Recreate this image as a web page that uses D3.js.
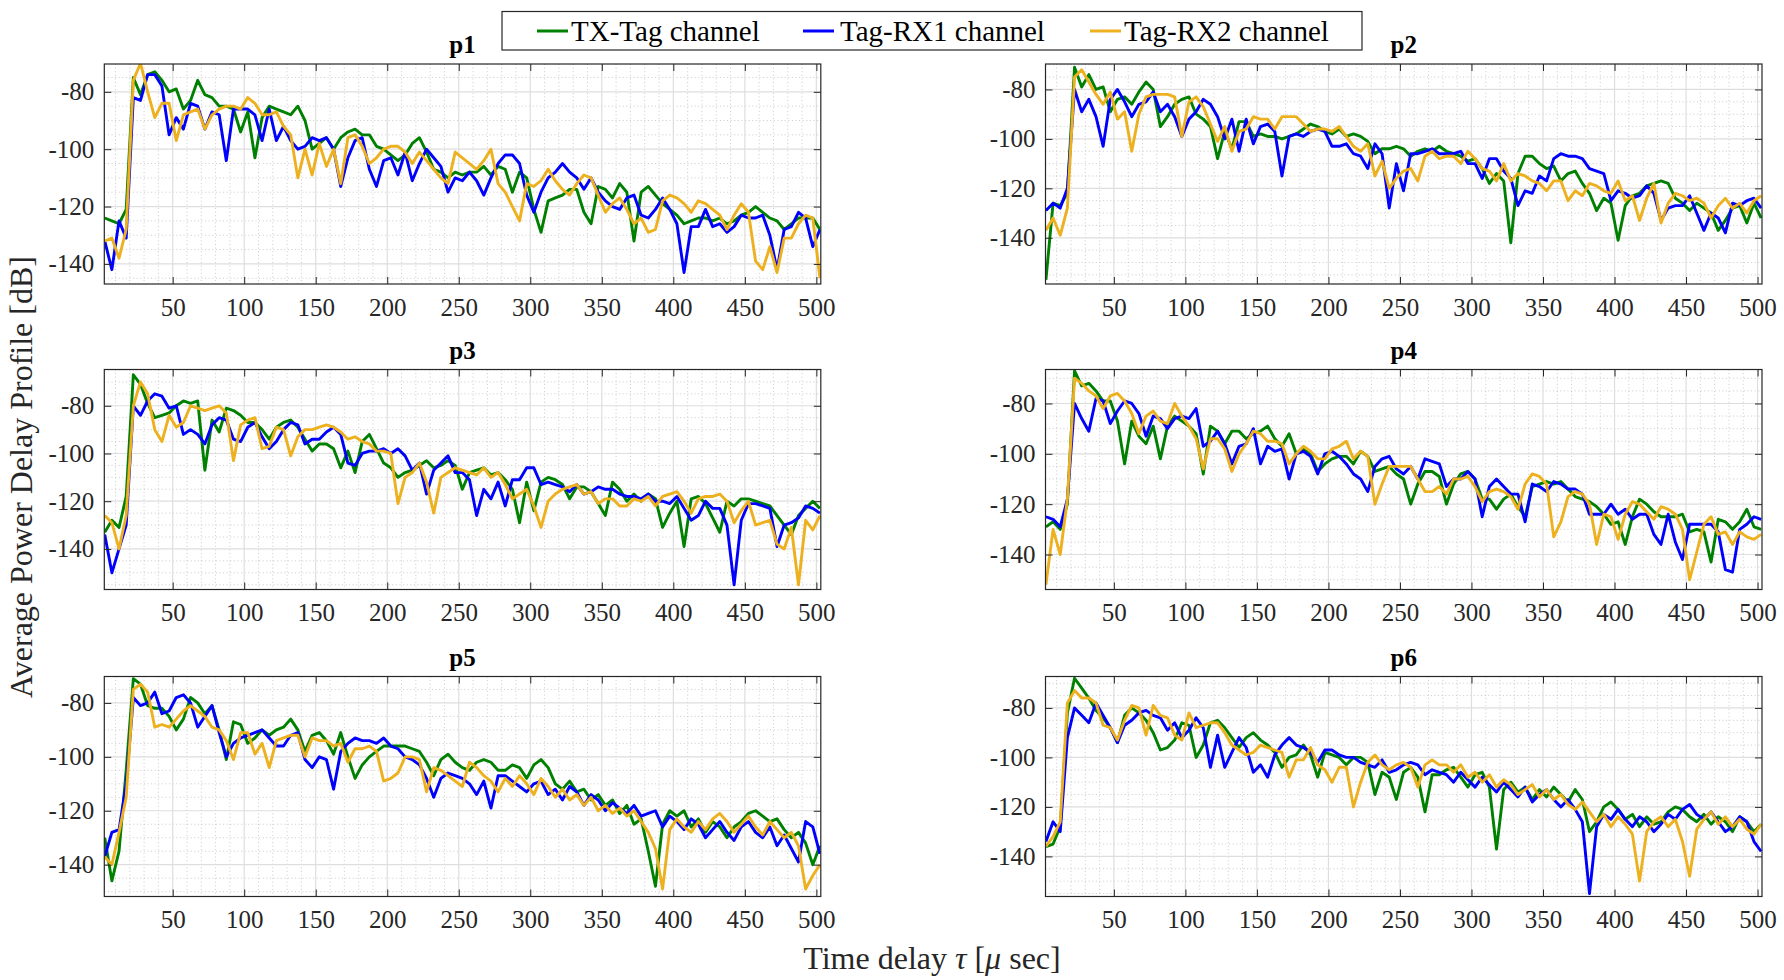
<!DOCTYPE html>
<html>
<head>
<meta charset="utf-8">
<script src="https://cdn.jsdelivr.net/npm/d3@7"></script>
<style>
  html, body { margin: 0; padding: 0; background: #fff; }
  svg { display: block; }
  text { font-family: "Liberation Serif", "Times New Roman", serif; }
</style>
</head>
<body>
<svg id="chart" width="1784" height="980"></svg>
<script>
// ---- data: average power delay profiles (dB) at six tag positions ----
const panelNames = ["p1", "p2", "p3", "p4", "p5", "p6"];
const seriesNames = ["TX-Tag channel", "Tag-RX1 channel", "Tag-RX2 channel"];
const xTicks = [50, 100, 150, 200, 250, 300, 350, 400, 450, 500];
const yTicks = [-80, -100, -120, -140];
const xLimits = [2.2, 503.1];
const yLimits = [[-147, -70.3], [-158.7, -69.7], [-157, -64.8], [-153.9, -66.5], [-151.8, -70.2], [-156.2, -67.3]];

// time delay samples (µs)
const delays = [
  2.5,7.5,12.5,17.5,22.5,27.5,32.5,37.5,42.5,47.5,
  52.5,57.5,62.5,67.5,72.5,77.5,82.5,87.5,92.5,97.5,
  102.5,107.5,112.5,117.5,122.5,127.5,132.5,137.5,142.5,147.5,
  152.5,157.5,162.5,167.5,172.5,177.5,182.5,187.5,192.5,197.5,
  202.5,207.5,212.5,217.5,222.5,227.5,232.5,237.5,242.5,247.5,
  252.5,257.5,262.5,267.5,272.5,277.5,282.5,287.5,292.5,297.5,
  302.5,307.5,312.5,317.5,322.5,327.5,332.5,337.5,342.5,347.5,
  352.5,357.5,362.5,367.5,372.5,377.5,382.5,387.5,392.5,397.5,
  402.5,407.5,412.5,417.5,422.5,427.5,432.5,437.5,442.5,447.5,
  452.5,457.5,462.5,467.5,472.5,477.5,482.5,487.5,492.5,497.5,
  502.5
];

const p1TxTag = [
  -124,-125,-126,-121,-75,-81,-74,-73,-76,-80,
  -79,-86,-83,-76,-81,-82,-85,-85,-86,-94,
  -87,-103,-89,-85,-86,-87,-88,-85,-90,-100,
  -98,-96,-100,-96,-94,-93,-95,-95,-99,-100,
  -102,-104,-102,-98,-96,-101,-107,-108,-110,-108,
  -109,-108,-108,-106,-109,-106,
  -107,-115,-108,-110,-121,-129,-118,-117,-116,-114,
  -114,-122,-126,-113,-114,-117,-112,-115,-132,-115,
  -113,-116,-119,-121,-123,-126,-125,-124,-124,-125,
  -124,-126,-125,-123,-122,-120,-122,-124,-125,-128,
  -126,-124,-124,-124,-128
];
const p1TagRx1 = [
  -132,-142,-125,-131,-82,-83,-74,-74,-78,-95,
  -89,-93,-84,-85,-93,-87,-88,-104,-86,-86,
  -86,-88,-97,-86,-97,-92,-97,-100,-99,-96,
  -97,-96,-100,-113,-103,-97,-96,-107,-113,-104,
  -103,-109,-101,-111,-105,-100,-103,-106,-115,-110,
  -111,-108,-111,-116,-110,-105,
  -102,-102,-105,-116,-122,-115,-110,-108,-105,-108,
  -110,-114,-110,-115,-118,-120,-121,-117,-116,-123,
  -124,-121,-117,-121,-126,-143,-127,-127,-121,-127,
  -126,-129,-127,-123,-124,-124,-123,-130,-142,-128,
  -127,-122,-124,-134,-128
];
const p1TagRx2 = [
  -132,-131,-138,-128,-76,-70,-80,-89,-84,-84,
  -97,-88,-87,-86,-93,-88,-86,-85,-85,-86,
  -82,-84,-88,-88,-87,-92,-95,-110,-100,-109,
  -98,-106,-100,-112,-96,-95,-99,-105,-103,-100,
  -99,-99,-101,-105,-101,-104,-107,-110,-112,-101,
  -103,-105,-107,-104,-100,-112,
  -115,-120,-125,-112,-113,-111,-107,-111,-114,-116,
  -112,-109,-110,-116,-122,-119,-117,-121,-126,-124,
  -129,-128,-118,-116,-117,-119,-122,-118,-119,-121,
  -123,-128,-123,-119,-122,-139,-142,-134,-143,-131,
  -131,-126,-123,-124,-145
];

const p2TxTag = [
  -157,-126,-127,-122,-71,-79,-74,-80,-79,-89,
  -84,-83,-86,-81,-77,-80,-95,-91,-86,-84,
  -83,-90,-92,-95,-108,-97,-104,-93,-93,-99,
  -98,-99,-99,-100,-99,-98,-96,-94,-95,-97,
  -98,-96,-99,-98,-99,-101,-106,-104,-104,-103,
  -104,-107,-105,-104,-105,-103,
  -105,-106,-107,-109,-108,-112,-118,-114,-117,-142,
  -114,-107,-107,-110,-112,-111,-117,-114,-113,-118,
  -122,-129,-124,-126,-141,-127,-123,-122,-119,-118,
  -117,-118,-124,-126,-129,-126,-128,-130,-137,-133,
  -128,-127,-134,-126,-132
];
const p2TagRx1 = [
  -129,-126,-128,-120,-80,-89,-84,-91,-103,-84,
  -80,-85,-91,-86,-85,-81,-89,-86,-91,-99,
  -92,-89,-84,-86,-91,-100,-92,-105,-92,-102,
  -95,-94,-97,-115,-99,-98,-99,-97,-96,-97,
  -103,-103,-102,-106,-107,-112,-102,-106,-128,-110,
  -121,-106,-106,-105,-104,-106,
  -106,-106,-105,-110,-110,-116,-108,-108,-113,-116,
  -127,-121,-122,-115,-117,-108,-106,-107,-107,-108,
  -112,-113,-114,-125,-121,-122,-124,-123,-119,-122,
  -133,-128,-127,-127,-123,-130,-137,-130,-132,-138,
  -126,-127,-125,-124,-128
];
const p2TagRx2 = [
  -137,-132,-139,-128,-75,-72,-77,-82,-86,-81,
  -92,-89,-105,-90,-83,-82,-82,-82,-83,-99,
  -85,-83,-87,-94,-101,-95,-105,-97,-96,-91,
  -92,-92,-96,-91,-91,-91,-94,-97,-96,-96,
  -97,-95,-99,-103,-105,-102,-115,-109,-120,-116,
  -113,-112,-117,-107,-105,-108,
  -107,-107,-110,-105,-108,-112,-113,-117,-110,-117,
  -114,-115,-117,-118,-121,-117,-117,-125,-121,-123,
  -118,-119,-121,-122,-117,-125,-123,-133,-124,-118,
  -134,-126,-122,-123,-125,-124,-126,-132,-127,-124,
  -128,-126,-130,-125,-123
];

const p3TxTag = [
  -133,-128,-131,-118,-67,-71,-79,-85,-84,-83,
  -80,-78,-79,-78,-107,-86,-91,-81,-82,-84,
  -87,-87,-90,-94,-89,-87,-86,-89,-94,-99,
  -96,-96,-98,-106,-99,-108,-95,-92,-98,-104,
  -106,-110,-108,-107,-105,-103,-106,-105,-103,-105,
  -115,-108,-107,-106,-109,-108,
  -111,-115,-129,-112,-124,-112,-110,-111,-113,-119,
  -114,-114,-116,-121,-126,-112,-115,-120,-117,-120,
  -117,-119,-131,-125,-120,-139,-119,-118,-121,-127,
  -133,-120,-122,-119,-119,-120,-121,-122,-126,-130,
  -134,-126,-123,-120,-123
];
const p3TagRx1 = [
  -134,-150,-140,-130,-80,-84,-78,-75,-76,-81,
  -80,-92,-90,-92,-96,-88,-85,-86,-94,-95,
  -89,-87,-93,-98,-95,-90,-87,-88,-96,-94,
  -94,-91,-89,-92,-104,-105,-100,-99,-99,-98,
  -100,-98,-101,-107,-104,-117,-107,-104,-101,-108,
  -108,-111,-126,-115,-119,-112,
  -122,-111,-111,-106,-106,-113,-112,-113,-114,-116,
  -113,-117,-116,-114,-115,-115,-117,-118,-118,-119,
  -117,-120,-120,-121,-118,-123,-128,-126,-120,-123,
  -123,-130,-155,-128,-121,-121,-122,-123,-139,-130,
  -129,-127,-122,-123,-125
];
const p3TagRx2 = [
  -126,-129,-140,-126,-80,-70,-75,-90,-95,-84,
  -89,-87,-80,-81,-82,-81,-80,-83,-103,-88,
  -86,-85,-98,-97,-89,-90,-101,-93,-90,-90,
  -89,-88,-89,-91,-94,-93,-95,-96,-99,-99,
  -100,-121,-110,-108,-104,-112,-125,-110,-108,-106,
  -107,-108,-109,-106,-110,-108,
  -113,-119,-117,-115,-122,-131,-120,-117,-115,-114,
  -113,-117,-116,-121,-119,-119,-122,-122,-119,-120,
  -118,-122,-118,-117,-116,-120,-125,-119,-118,-118,
  -117,-120,-129,-124,-120,-130,-129,-128,-138,-140,
  -131,-155,-128,-132,-126
];

const p4TxTag = [
  -129,-127,-130,-120,-67,-73,-72,-75,-79,-79,
  -87,-104,-87,-93,-96,-89,-102,-89,-85,-87,
  -89,-92,-108,-89,-91,-96,-91,-91,-94,-92,
  -91,-89,-94,-97,-92,-100,-98,-100,-107,-104,
  -102,-101,-101,-104,-99,-101,-107,-106,-105,-108,
  -110,-120,-112,-107,-107,-109,
  -120,-112,-108,-107,-110,-118,-118,-122,-118,-116,
  -121,-125,-113,-112,-111,-112,-111,-114,-117,-118,
  -119,-121,-124,-128,-127,-136,-125,-118,-120,-123,
  -125,-125,-125,-124,-131,-130,-131,-143,-126,-127,
  -130,-127,-122,-129,-130
];
const p4TagRx1 = [
  -125,-126,-129,-118,-80,-86,-91,-78,-79,-88,
  -83,-79,-80,-84,-93,-85,-86,-90,-86,-85,
  -86,-82,-97,-95,-91,-96,-104,-97,-96,-90,
  -104,-97,-99,-98,-110,-100,-99,-101,-108,-100,
  -99,-101,-104,-108,-110,-115,-105,-102,-101,-106,
  -108,-105,-110,-102,-103,-104,
  -113,-110,-110,-107,-110,-125,-113,-110,-113,-116,
  -116,-127,-112,-113,-115,-111,-112,-114,-114,-116,
  -124,-124,-124,-120,-124,-122,-126,-124,-124,-132,
  -136,-124,-135,-142,-128,-128,-128,-128,-131,-146,
  -147,-130,-128,-125,-126
];
const p4TagRx2 = [
  -152,-130,-140,-118,-70,-72,-75,-77,-82,-77,
  -76,-79,-84,-92,-85,-83,-87,-88,-80,-85,
  -89,-94,-106,-94,-94,-98,-107,-100,-96,-91,
  -92,-95,-95,-96,-104,-100,-97,-99,-102,-102,
  -98,-97,-95,-102,-99,-101,-120,-112,-105,-105,
  -105,-105,-110,-115,-115,-113,
  -116,-110,-110,-109,-113,-119,-115,-114,-115,-117,
  -122,-112,-108,-109,-112,-133,-127,-117,-115,-116,
  -120,-136,-124,-125,-134,-124,-119,-120,-123,-126,
  -121,-122,-124,-130,-150,-139,-128,-125,-132,-131,
  -136,-131,-133,-134,-132
];

const p5TxTag = [
  -130,-146,-135,-105,-71,-73,-81,-82,-82,-85,
  -90,-86,-78,-80,-84,-81,-90,-101,-87,-88,
  -95,-93,-90,-92,-90,-89,-86,-90,-98,-92,
  -91,-94,-99,-91,-100,-108,-103,-100,-98,-96,
  -96,-96,-96,-97,-98,-102,-107,-101,-99,-102,
  -104,-105,-102,-101,-102,-105,
  -105,-103,-104,-108,-103,-101,-104,-110,-112,-109,
  -113,-112,-116,-114,-118,-116,-121,-118,-125,-123,
  -135,-148,-125,-120,-122,-120,-126,-123,-128,-124,
  -126,-130,-126,-124,-121,-120,-122,-124,-123,-127,
  -130,-128,-132,-140,-133
];
const p5TagRx1 = [
  -137,-128,-127,-110,-78,-81,-80,-76,-84,-83,
  -78,-77,-80,-89,-85,-81,-91,-100,-95,-93,
  -92,-91,-90,-93,-96,-96,-92,-91,-101,-104,
  -100,-101,-112,-98,-95,-93,-94,-94,-95,-93,
  -96,-97,-100,-101,-103,-108,-115,-108,-106,-107,
  -108,-110,-114,-109,-119,-107,
  -107,-109,-111,-113,-110,-109,-114,-112,-116,-111,
  -113,-118,-114,-116,-120,-117,-119,-121,-118,-122,
  -121,-120,-126,-122,-124,-127,-123,-125,-130,-127,
  -124,-128,-131,-126,-124,-128,-130,-126,-133,-129,
  -134,-139,-124,-126,-136
];
const p5TagRx2 = [
  -137,-140,-128,-115,-75,-73,-76,-89,-88,-89,
  -86,-83,-81,-83,-85,-89,-90,-94,-101,-91,
  -91,-99,-95,-104,-94,-93,-92,-92,-100,-93,
  -94,-94,-96,-95,-102,-97,-97,-96,-98,-109,
  -108,-106,-100,-100,-101,-113,-104,-105,-107,-109,
  -111,-102,-104,-107,-109,-113,
  -108,-111,-107,-110,-114,-108,-111,-115,-112,-116,
  -114,-118,-115,-120,-118,-121,-119,-122,-120,-124,
  -128,-134,-149,-127,-123,-126,-128,-124,-127,-123,
  -121,-124,-128,-125,-122,-126,-129,-124,-127,-130,
  -128,-133,-149,-144,-140
];

const p6TxTag = [
  -136,-135,-128,-82,-68,-72,-76,-81,-84,-88,
  -94,-83,-80,-82,-85,-90,-97,-96,-93,-86,
  -87,-100,-95,-86,-85,-88,-92,-96,-92,-90,
  -93,-95,-98,-104,-100,-99,-95,-99,-108,-98,
  -99,-100,-103,-100,-100,-102,-115,-106,-108,-117,
  -106,-104,-108,-122,-107,-107,
  -105,-104,-108,-112,-107,-106,-112,-137,-113,-110,
  -114,-112,-117,-113,-116,-112,-115,-118,-113,-117,
  -130,-126,-120,-118,-121,-125,-123,-128,-124,-127,
  -126,-122,-120,-121,-124,-126,-123,-127,-124,-126,
  -130,-124,-126,-130,-127
];
const p6TagRx1 = [
  -134,-126,-130,-92,-80,-83,-86,-78,-83,-88,
  -94,-87,-85,-82,-81,-83,-84,-89,-86,-92,
  -89,-84,-88,-104,-91,-104,-98,-92,-96,-106,
  -103,-108,-99,-95,-92,-95,-96,-98,-102,-97,
  -97,-99,-100,-100,-102,-103,-104,-101,-106,-105,
  -103,-102,-103,-107,-105,-106,
  -107,-110,-106,-109,-112,-108,-111,-114,-110,-113,
  -116,-112,-118,-115,-113,-117,-120,-117,-121,-126,
  -155,-128,-123,-125,-121,-125,-128,-124,-126,-130,
  -127,-123,-125,-121,-119,-123,-125,-122,-126,-130,
  -128,-124,-126,-134,-138
];
const p6TagRx2 = [
  -136,-132,-126,-78,-73,-76,-76,-78,-87,-88,
  -93,-85,-79,-80,-91,-79,-83,-84,-91,-93,
  -82,-88,-87,-86,-86,-90,-95,-97,-99,-98,
  -95,-96,-97,-98,-108,-101,-101,-96,-103,-105,
  -110,-104,-104,-120,-110,-102,-99,-103,-105,-103,
  -102,-104,-112,-103,-101,-103,
  -103,-106,-103,-108,-106,-110,-107,-112,-109,-111,
  -115,-113,-111,-116,-113,-117,-115,-119,-121,-118,
  -122,-126,-123,-128,-124,-127,-131,-150,-130,-126,
  -124,-128,-125,-134,-148,-129,-125,-122,-127,-124,
  -128,-125,-129,-131,-127
];

const profiles = [
  [p1TxTag, p1TagRx1, p1TagRx2],
  [p2TxTag, p2TagRx1, p2TagRx2],
  [p3TxTag, p3TagRx1, p3TagRx2],
  [p4TxTag, p4TagRx1, p4TagRx2],
  [p5TxTag, p5TagRx1, p5TagRx2],
  [p6TxTag, p6TagRx1, p6TagRx2]
];

// ---- layout & style ----
const seriesColors = ["#008000", "#0000ff", "#edb120"];
const axisColor = "#262626";
const colLeft = [104.3, 1045.5];
const colWidth = 716.5;
const rowTop = [64, 369.5, 676.5];
const rowHeight = 220;
const tickLen = 7;

const svg = d3.select("#chart");
svg.append("rect").attr("width", 1784).attr("height", 980).attr("fill", "#fff");

panelNames.forEach((name, k) => {
  const col = k % 2, row = Math.floor(k / 2);
  const x = d3.scaleLinear().domain(xLimits).range([0, colWidth]);
  const y = d3.scaleLinear().domain(yLimits[k]).range([rowHeight, 0]);
  const g = svg.append("g").attr("transform", `translate(${colLeft[col]},${rowTop[row]})`);

  // minor grid (dotted)
  const xMinor = d3.range(10, 501, 10).filter(v => v % 50 !== 0);
  const yMinor = d3.range(-160, -60, 5)
    .filter(v => v % 20 !== 0 && v >= yLimits[k][0] && v <= yLimits[k][1]);
  g.append("g").selectAll("line").data(xMinor).join("line")
    .attr("x1", d => x(d)).attr("x2", d => x(d)).attr("y1", 0).attr("y2", rowHeight)
    .attr("stroke", "#c4c4c4").attr("stroke-width", 0.9).attr("stroke-dasharray", "1,2.6");
  g.append("g").selectAll("line").data(yMinor).join("line")
    .attr("x1", 0).attr("x2", colWidth).attr("y1", d => y(d)).attr("y2", d => y(d))
    .attr("stroke", "#c4c4c4").attr("stroke-width", 0.9).attr("stroke-dasharray", "1,2.6");

  // major grid
  g.append("g").selectAll("line").data(xTicks).join("line")
    .attr("x1", d => x(d)).attr("x2", d => x(d)).attr("y1", 0).attr("y2", rowHeight)
    .attr("stroke", "#dedede").attr("stroke-width", 1.2);
  g.append("g").selectAll("line").data(yTicks).join("line")
    .attr("x1", 0).attr("x2", colWidth).attr("y1", d => y(d)).attr("y2", d => y(d))
    .attr("stroke", "#dedede").attr("stroke-width", 1.2);

  // profile curves
  const clipId = "clip-" + name;
  g.append("clipPath").attr("id", clipId)
    .append("rect").attr("width", colWidth).attr("height", rowHeight);
  const line = d3.line().x((d, i) => x(delays[i])).y(d => y(d));
  const curves = g.append("g").attr("clip-path", `url(#${clipId})`);
  profiles[k].forEach((values, s) => {
    curves.append("path").datum(values)
      .attr("d", line)
      .attr("fill", "none")
      .attr("stroke", seriesColors[s])
      .attr("stroke-width", 2.9)
      .attr("stroke-linejoin", "round");
  });

  // axes: ticks point inward on all four sides
  const styleAxis = sel => {
    sel.select(".domain").remove();
    sel.selectAll(".tick line").attr("stroke", axisColor).attr("stroke-width", 1);
    sel.selectAll(".tick text").attr("fill", axisColor)
      .style("font-family", '"Liberation Serif", "Times New Roman", serif')
      .style("font-size", "25px");
  };
  g.append("g").attr("transform", `translate(0,${rowHeight})`)
    .call(d3.axisBottom(x).tickValues(xTicks).tickSizeInner(-tickLen).tickSizeOuter(0)
      .tickPadding(14).tickFormat(d => String(d)))
    .call(styleAxis);
  g.append("g")
    .call(d3.axisTop(x).tickValues(xTicks).tickSizeInner(-tickLen).tickSizeOuter(0).tickFormat(""))
    .call(styleAxis);
  g.append("g")
    .call(d3.axisLeft(y).tickValues(yTicks).tickSizeInner(-tickLen).tickSizeOuter(0)
      .tickPadding(10).tickFormat(d => String(d)))
    .call(styleAxis);
  g.append("g").attr("transform", `translate(${colWidth},0)`)
    .call(d3.axisRight(y).tickValues(yTicks).tickSizeInner(-tickLen).tickSizeOuter(0).tickFormat(""))
    .call(styleAxis);

  // box
  g.append("rect").attr("width", colWidth).attr("height", rowHeight)
    .attr("fill", "none").attr("stroke", axisColor).attr("stroke-width", 1.2);

  // panel title
  g.append("text").attr("x", colWidth / 2).attr("y", -11)
    .attr("text-anchor", "middle").attr("font-weight", "bold")
    .attr("font-size", 25).attr("fill", "#000").text(name);
});

// ---- legend ----
const legend = svg.append("g");
legend.append("rect").attr("x", 502).attr("y", 11.5).attr("width", 860).attr("height", 38.5)
  .attr("fill", "#fff").attr("stroke", axisColor).attr("stroke-width", 1.2);
const legendLineX = [537, 803, 1090];
const legendTextX = [571, 840, 1124];
seriesNames.forEach((label, s) => {
  legend.append("line")
    .attr("x1", legendLineX[s]).attr("x2", legendLineX[s] + 31)
    .attr("y1", 31).attr("y2", 31)
    .attr("stroke", seriesColors[s]).attr("stroke-width", 3);
  legend.append("text").attr("x", legendTextX[s]).attr("y", 41)
    .attr("font-size", 29).attr("fill", "#000").text(label);
});

// ---- shared axis labels ----
const xLabel = svg.append("text").attr("x", 932).attr("y", 969)
  .attr("text-anchor", "middle").attr("font-size", 32).attr("fill", "#262626");
xLabel.append("tspan").text("Time delay ");
xLabel.append("tspan").attr("font-style", "italic").text("τ");
xLabel.append("tspan").text(" [");
xLabel.append("tspan").attr("font-style", "italic").text("μ");
xLabel.append("tspan").text(" sec]");

svg.append("text").attr("transform", "translate(32,477) rotate(-90)")
  .attr("text-anchor", "middle").attr("font-size", 32).attr("fill", "#262626")
  .text("Average Power Delay Profile [dB]");
</script>
</body>
</html>
